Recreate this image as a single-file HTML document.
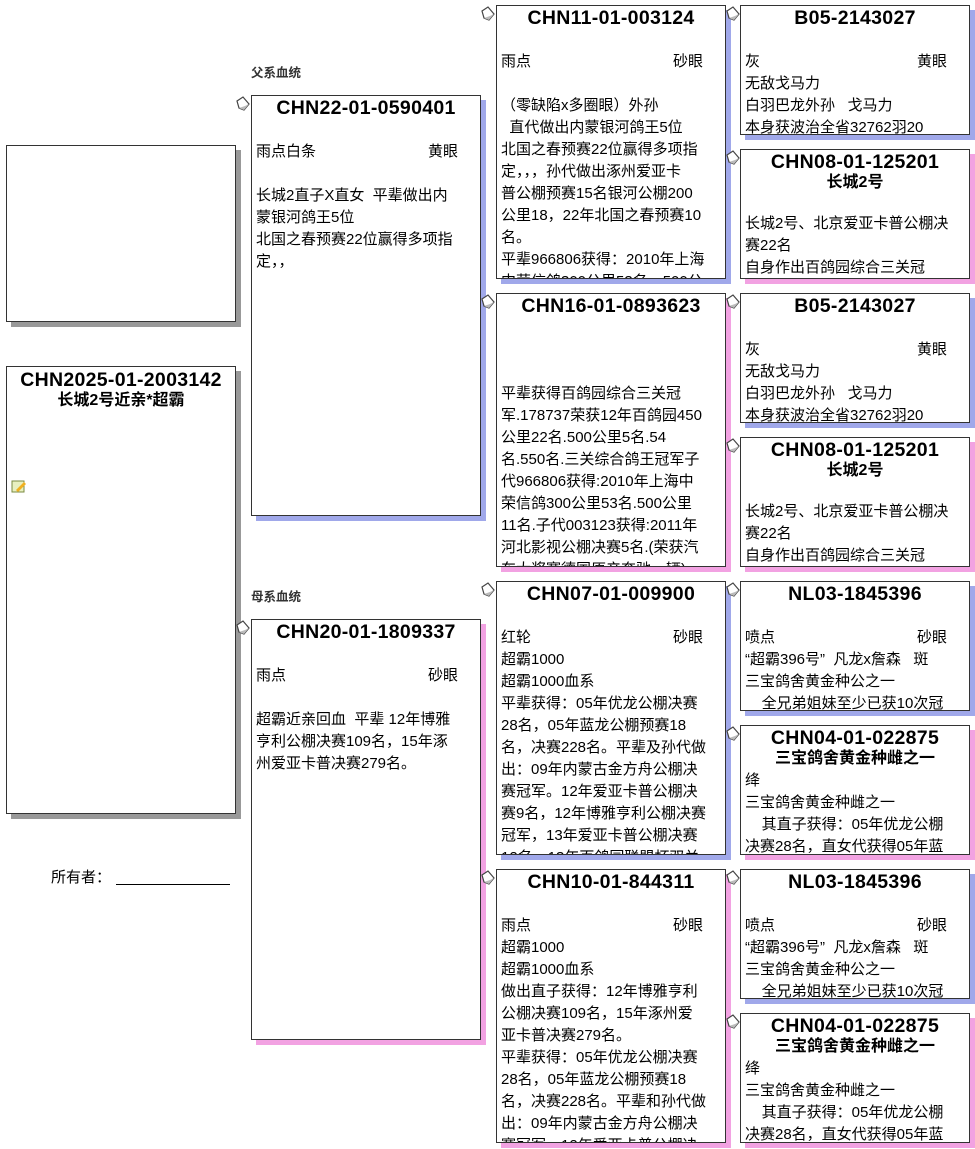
<!DOCTYPE html>
<html><head><meta charset="utf-8"><style>
body{margin:0;width:975px;height:1149px;background:#fff;position:relative;overflow:hidden;font-family:"Liberation Sans","Noto Sans CJK SC",sans-serif;color:#000}
.b{position:absolute;width:228px;border:1px solid #333;background:#fff;overflow:hidden;box-sizing:content-box}
.sb{box-shadow:5px 5px 0 #a0a8ea}.sp{box-shadow:5px 5px 0 #f2a2e2}.sg{box-shadow:5px 5px 0 #999}
.t{text-align:center;font-weight:bold;font-size:19.5px;line-height:22px;margin-top:1px;letter-spacing:0.3px}
.s{text-align:center;font-weight:bold;font-size:16px;line-height:20px}
.c{font-size:15px;line-height:22px;padding:0 4px;white-space:nowrap}
.r{display:flex;justify-content:space-between;padding-right:18px}
.lab{position:absolute;font-size:12.5px;font-weight:bold;color:#333}
.ic{position:absolute;width:15px;height:15px}
</style></head><body>
<svg width="0" height="0" style="position:absolute"><defs><g id="bk"><path d="M2 5 L8 1 L14 8 L9 14 L4 12 Z" fill="#fff" stroke="#444" stroke-width="1.2"/><path d="M4 12 L9 14 L14 8 L10 10 Z" fill="#bbb"/></g></defs></svg>

<div class="b sg" style="left:6px;top:145px;height:175px"></div>
<div class="b sg" style="left:6px;top:366px;height:446px">
<div class="t" style="margin-top:2px">CHN2025-01-2003142</div><div class="s">长城2号近亲*超霸</div>
<svg style="position:absolute;left:4px;top:112px" width="16" height="16"><rect x="1" y="2" width="12" height="11" fill="#e8f0c0" stroke="#7a8a40"/><path d="M5 11 L13 3 L15 5 L7 13 Z" fill="#f0b020"/></svg>
</div>
<div style="position:absolute;left:51px;top:866px;font-size:15px">所有者：</div>
<div style="position:absolute;left:116px;top:884px;width:114px;border-top:1px solid #000"></div>

<div class="lab" style="left:251px;top:62px">父系血统</div>
<div class="lab" style="left:251px;top:586px">母系血统</div>

<svg class="ic" style="left:235px;top:96px"><use href="#bk"/></svg>
<div class="b sb" style="left:251px;top:95px;height:419px">
<div class="t">CHN22-01-0590401</div>
<div class="c" style="margin-top:22px"><div class="r"><span>雨点白条</span><span>黄眼</span></div><br>长城2直子X直女&nbsp; 平辈做出内<br>蒙银河鸽王5位<br>北国之春预赛22位赢得多项指<br>定，，</div></div>

<svg class="ic" style="left:235px;top:620px"><use href="#bk"/></svg>
<div class="b sp" style="left:251px;top:619px;height:419px">
<div class="t">CHN20-01-1809337</div>
<div class="c" style="margin-top:22px"><div class="r"><span>雨点</span><span>砂眼</span></div><br>超霸近亲回血&nbsp; 平辈 12年博雅<br>亨利公棚决赛109名，15年涿<br>州爱亚卡普决赛279名。</div></div>

<svg class="ic" style="left:480px;top:6px"><use href="#bk"/></svg>
<div class="b sb" style="left:496px;top:5px;height:272px">
<div class="t">CHN11-01-003124</div>
<div class="c" style="margin-top:22px"><div class="r"><span>雨点</span><span>砂眼</span></div><br>（零缺陷x多圈眼）外孙<br>&nbsp; 直代做出内蒙银河鸽王5位<br>北国之春预赛22位赢得多项指<br>定，，，孙代做出涿州爱亚卡<br>普公棚预赛15名银河公棚200<br>公里18，22年北国之春预赛10<br>名。<br>平辈966806获得：2010年上海<br>中荣信鸽300公里53名，500公</div></div>

<svg class="ic" style="left:480px;top:294px"><use href="#bk"/></svg>
<div class="b sp" style="left:496px;top:293px;height:272px">
<div class="t">CHN16-01-0893623</div>
<div class="c" style="margin-top:66px">平辈获得百鸽园综合三关冠<br>军.178737荣获12年百鸽园450<br>公里22名.500公里5名.54<br>名.550名.三关综合鸽王冠军子<br>代966806获得:2010年上海中<br>荣信鸽300公里53名.500公里<br>11名.子代003123获得:2011年<br>河北影视公棚决赛5名.(荣获汽<br>车大奖赛德国原产奔驰一辆)</div></div>

<svg class="ic" style="left:480px;top:582px"><use href="#bk"/></svg>
<div class="b sb" style="left:496px;top:581px;height:272px">
<div class="t">CHN07-01-009900</div>
<div class="c" style="margin-top:22px"><div class="r"><span>红轮</span><span>砂眼</span></div>超霸1000<br>超霸1000血系<br>平辈获得：05年优龙公棚决赛<br>28名，05年蓝龙公棚预赛18<br>名，决赛228名。平辈及孙代做<br>出：09年内蒙古金方舟公棚决<br>赛冠军。12年爱亚卡普公棚决<br>赛9名，12年博雅亨利公棚决赛<br>冠军，13年爱亚卡普公棚决赛<br>12名，13年百鸽园联盟杯双关</div></div>

<svg class="ic" style="left:480px;top:870px"><use href="#bk"/></svg>
<div class="b sp" style="left:496px;top:869px;height:272px">
<div class="t">CHN10-01-844311</div>
<div class="c" style="margin-top:22px"><div class="r"><span>雨点</span><span>砂眼</span></div>超霸1000<br>超霸1000血系<br>做出直子获得：12年博雅亨利<br>公棚决赛109名，15年涿州爱<br>亚卡普决赛279名。<br>平辈获得：05年优龙公棚决赛<br>28名，05年蓝龙公棚预赛18<br>名，决赛228名。平辈和孙代做<br>出：09年内蒙古金方舟公棚决<br>赛冠军，12年爱亚卡普公棚决</div></div>

<svg class="ic" style="left:725px;top:6px"><use href="#bk"/></svg>
<div class="b sb" style="left:740px;top:5px;height:128px">
<div class="t">B05-2143027</div>
<div class="c" style="margin-top:22px"><div class="r"><span>灰</span><span>黄眼</span></div>无敌戈马力<br>白羽巴龙外孙&nbsp;&nbsp; 戈马力<br>本身获波治全省32762羽20</div></div>

<svg class="ic" style="left:725px;top:150px"><use href="#bk"/></svg>
<div class="b sp" style="left:740px;top:149px;height:128px">
<div class="t">CHN08-01-125201</div><div class="s">长城2号</div>
<div class="c" style="margin-top:20px">长城2号、北京爱亚卡普公棚决<br>赛22名<br>自身作出百鸽园综合三关冠</div></div>

<svg class="ic" style="left:725px;top:294px"><use href="#bk"/></svg>
<div class="b sb" style="left:740px;top:293px;height:128px">
<div class="t">B05-2143027</div>
<div class="c" style="margin-top:22px"><div class="r"><span>灰</span><span>黄眼</span></div>无敌戈马力<br>白羽巴龙外孙&nbsp;&nbsp; 戈马力<br>本身获波治全省32762羽20</div></div>

<svg class="ic" style="left:725px;top:438px"><use href="#bk"/></svg>
<div class="b sp" style="left:740px;top:437px;height:128px">
<div class="t">CHN08-01-125201</div><div class="s">长城2号</div>
<div class="c" style="margin-top:20px">长城2号、北京爱亚卡普公棚决<br>赛22名<br>自身作出百鸽园综合三关冠</div></div>

<svg class="ic" style="left:725px;top:582px"><use href="#bk"/></svg>
<div class="b sb" style="left:740px;top:581px;height:128px">
<div class="t">NL03-1845396</div>
<div class="c" style="margin-top:22px"><div class="r"><span>喷点</span><span>砂眼</span></div>“超霸396号”&nbsp; 凡龙x詹森&nbsp;&nbsp; 斑<br>三宝鸽舍黄金种公之一<br>&nbsp;&nbsp;&nbsp; 全兄弟姐妹至少已获10次冠</div></div>

<svg class="ic" style="left:725px;top:726px"><use href="#bk"/></svg>
<div class="b sp" style="left:740px;top:725px;height:128px">
<div class="t">CHN04-01-022875</div><div class="s">三宝鸽舍黄金种雌之一</div>
<div class="c" style="margin-top:1px">绛<br>三宝鸽舍黄金种雌之一<br>&nbsp;&nbsp;&nbsp; 其直子获得：05年优龙公棚<br>决赛28名，直女代获得05年蓝</div></div>

<svg class="ic" style="left:725px;top:870px"><use href="#bk"/></svg>
<div class="b sb" style="left:740px;top:869px;height:128px">
<div class="t">NL03-1845396</div>
<div class="c" style="margin-top:22px"><div class="r"><span>喷点</span><span>砂眼</span></div>“超霸396号”&nbsp; 凡龙x詹森&nbsp;&nbsp; 斑<br>三宝鸽舍黄金种公之一<br>&nbsp;&nbsp;&nbsp; 全兄弟姐妹至少已获10次冠</div></div>

<svg class="ic" style="left:725px;top:1014px"><use href="#bk"/></svg>
<div class="b sp" style="left:740px;top:1013px;height:128px">
<div class="t">CHN04-01-022875</div><div class="s">三宝鸽舍黄金种雌之一</div>
<div class="c" style="margin-top:1px">绛<br>三宝鸽舍黄金种雌之一<br>&nbsp;&nbsp;&nbsp; 其直子获得：05年优龙公棚<br>决赛28名，直女代获得05年蓝</div></div>
</body></html>
